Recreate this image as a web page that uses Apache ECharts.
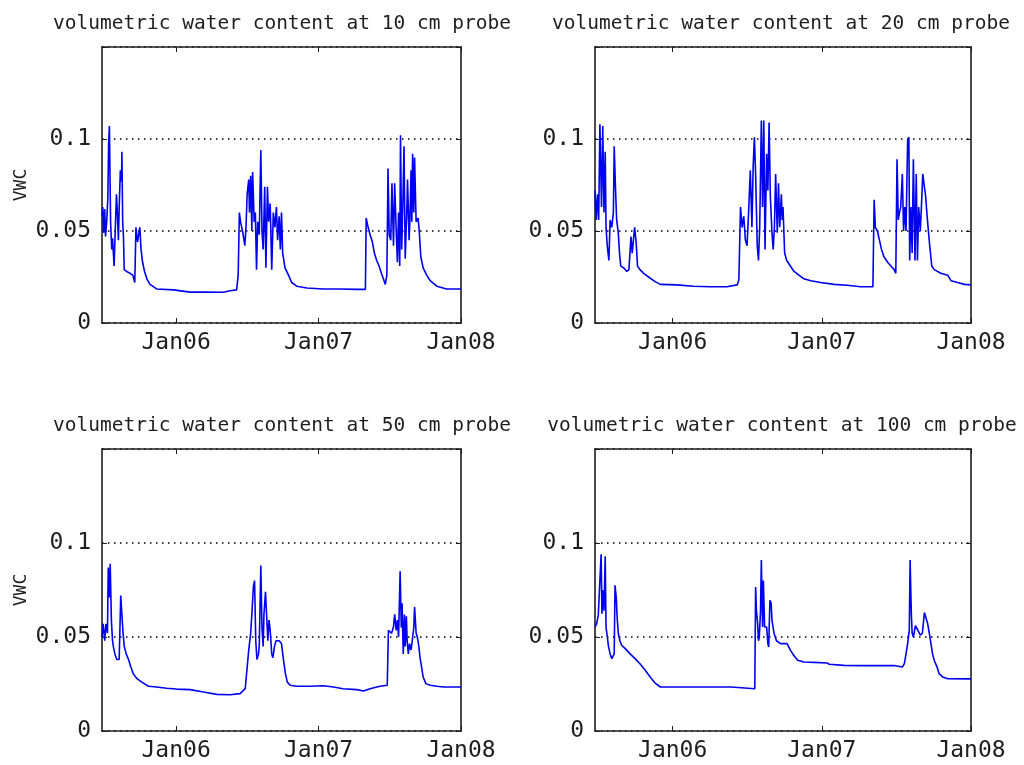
<!DOCTYPE html>
<html>
<head>
<meta charset="utf-8">
<script src="https://cdn.jsdelivr.net/npm/echarts@6/dist/echarts.min.js"></script>
<style>
html,body{margin:0;padding:0;background:#fff;}
#chart{width:1024px;height:765px;}
</style>
</head>
<body>
<div id="chart"></div>
<script>
// ---- data (days counted from START_DATE) ----
const START_DATE = [2005, 5, 24];          // 2005-06-24
const END_DAY = 920;                        // 2008-01-01
const TICK_DAYS = [190, 555, 920];          // Jan06, Jan07, Jan08
const TICK_LABELS = ['Jan06', 'Jan07', 'Jan08'];
const Y_TICKS = [0, 0.05, 0.1];

const titles = [
  'volumetric water content at 10 cm probe',
  'volumetric water content at 20 cm probe',
  'volumetric water content at 50 cm probe',
  'volumetric water content at 100 cm probe'
];

const day10 = [0,2,4,7,9,12,15,17,19,21,22,25,27,31,34,37,39,42,44,47,50,51,53,55,57,63,72,79,84,87,91,94,97,100,104,109,115,123,140,183,226,268,311,328,345,349,352,355,361,366,369,372,376,378,381,384,386,390,393,396,399,403,407,410,413,417,420,424,427,431,435,439,443,447,450,454,457,460,463,469,478,486,499,525,567,610,653,675,677,682,687,693,698,704,710,716,721,726,730,733,736,740,743,747,750,754,757,760,763,765,768,771,774,777,781,783,787,789,792,794,796,799,801,805,810,813,817,823,832,841,858,883,920];
const vwc10 = [0.058,0.063,0.049,0.062,0.047,0.055,0.068,0.098,0.107,0.072,0.055,0.040,0.046,0.031,0.030,0.070,0.062,0.045,0.062,0.083,0.077,0.093,0.055,0.047,0.029,0.028,0.027,0.026,0.022,0.052,0.044,0.048,0.052,0.040,0.033,0.028,0.024,0.021,0.0185,0.018,0.0168,0.0168,0.0167,0.0175,0.018,0.026,0.060,0.055,0.049,0.042,0.052,0.070,0.078,0.060,0.080,0.050,0.082,0.055,0.060,0.029,0.055,0.048,0.094,0.050,0.040,0.074,0.030,0.074,0.055,0.065,0.029,0.060,0.052,0.063,0.045,0.058,0.040,0.060,0.038,0.030,0.026,0.022,0.020,0.019,0.0185,0.0185,0.0183,0.0183,0.057,0.052,0.048,0.044,0.038,0.034,0.031,0.027,0.024,0.021,0.026,0.084,0.048,0.045,0.076,0.042,0.076,0.050,0.033,0.060,0.031,0.102,0.040,0.065,0.096,0.035,0.060,0.078,0.045,0.055,0.083,0.055,0.092,0.060,0.090,0.055,0.057,0.050,0.036,0.030,0.026,0.023,0.020,0.0185,0.0185];

const day20 = [0,3,6,9,12,16,19,22,25,27,30,34,37,41,45,47,50,53,57,60,63,70,78,83,88,91,94,97,101,104,110,119,131,147,160,200,241,282,323,348,352,356,360,364,368,372,376,380,384,387,390,393,397,400,403,407,410,413,416,420,423,426,429,433,436,439,442,446,449,452,456,458,460,464,469,478,487,499,511,528,552,585,617,650,680,683,686,691,696,701,707,716,724,732,736,739,742,745,748,752,755,758,761,765,768,770,773,776,779,783,786,789,792,796,799,802,806,809,812,815,819,824,830,846,863,871,887,904,920];
const vwc20 = [0.072,0.056,0.070,0.056,0.108,0.063,0.107,0.060,0.093,0.052,0.042,0.034,0.056,0.052,0.060,0.096,0.074,0.056,0.049,0.038,0.031,0.030,0.028,0.029,0.047,0.038,0.045,0.052,0.043,0.031,0.029,0.027,0.025,0.0225,0.021,0.0207,0.020,0.0197,0.0197,0.0207,0.0234,0.063,0.052,0.058,0.045,0.042,0.061,0.083,0.052,0.085,0.101,0.081,0.042,0.034,0.052,0.110,0.063,0.110,0.040,0.092,0.072,0.109,0.069,0.049,0.040,0.052,0.081,0.049,0.076,0.052,0.070,0.056,0.063,0.038,0.034,0.031,0.028,0.026,0.024,0.023,0.022,0.021,0.0205,0.0197,0.0197,0.067,0.052,0.050,0.045,0.040,0.036,0.033,0.031,0.029,0.027,0.089,0.056,0.060,0.063,0.081,0.050,0.063,0.050,0.0995,0.101,0.034,0.063,0.038,0.089,0.034,0.081,0.034,0.063,0.050,0.065,0.081,0.074,0.069,0.060,0.052,0.042,0.031,0.029,0.027,0.026,0.023,0.022,0.021,0.0207];

const day50 = [0,3,7,10,14,16,19,21,24,27,29,33,38,44,48,51,54,57,62,68,74,80,89,102,119,140,166,191,226,260,294,328,354,367,372,376,381,384,388,391,394,397,401,403,407,410,413,415,419,422,425,428,431,435,438,442,446,450,454,460,465,470,475,482,499,533,567,593,618,653,670,687,712,731,734,738,742,747,750,754,757,760,764,767,769,772,775,777,780,782,785,788,792,795,799,801,805,808,812,815,819,823,830,841,858,875,920];
const vwc50 = [0.050,0.057,0.048,0.057,0.052,0.087,0.071,0.089,0.059,0.048,0.045,0.041,0.038,0.038,0.072,0.073,0.052,0.045,0.041,0.038,0.034,0.0305,0.028,0.026,0.0238,0.0234,0.0227,0.0223,0.022,0.0207,0.0195,0.0193,0.0199,0.0225,0.0234,0.043,0.052,0.062,0.077,0.080,0.048,0.038,0.041,0.045,0.088,0.055,0.045,0.062,0.074,0.073,0.048,0.059,0.0535,0.041,0.039,0.045,0.048,0.049,0.048,0.0465,0.038,0.0305,0.026,0.0243,0.0238,0.0238,0.0241,0.0234,0.0225,0.022,0.0213,0.0225,0.0238,0.0243,0.0535,0.0527,0.052,0.0553,0.062,0.0535,0.059,0.050,0.085,0.055,0.068,0.041,0.062,0.045,0.061,0.048,0.041,0.0465,0.043,0.048,0.055,0.066,0.052,0.050,0.045,0.039,0.034,0.0287,0.0252,0.0243,0.0238,0.0234,0.0234];

const day100 = [0,4,8,12,15,17,20,22,25,27,29,33,37,41,45,47,49,52,54,57,61,65,74,86,98,110,123,135,147,160,333,335,391,393,395,398,400,402,405,407,410,412,415,420,423,425,428,431,433,438,444,454,470,478,487,496,511,536,568,573,609,650,732,752,757,761,765,769,771,774,776,779,784,788,792,796,801,806,810,814,818,822,826,830,837,842,851,863,920];
const vwc100 = [0.0553,0.057,0.0615,0.0624,0.094,0.0624,0.075,0.064,0.093,0.0553,0.052,0.045,0.041,0.0385,0.039,0.041,0.0775,0.071,0.061,0.052,0.048,0.0456,0.0438,0.041,0.0385,0.0358,0.0323,0.0287,0.0255,0.0234,0.0234,0.0225,0.0225,0.0766,0.064,0.057,0.048,0.050,0.064,0.091,0.0553,0.080,0.0553,0.0553,0.0465,0.0447,0.0695,0.068,0.059,0.052,0.048,0.0465,0.0465,0.043,0.040,0.0376,0.0367,0.0365,0.0362,0.0355,0.0349,0.0348,0.0348,0.034,0.0358,0.041,0.0465,0.0535,0.091,0.0624,0.052,0.050,0.056,0.0553,0.0527,0.051,0.052,0.063,0.0624,0.057,0.052,0.0465,0.041,0.0376,0.034,0.0305,0.0287,0.0278,0.0277];

// ---- build ----
const DAY = 86400000;
const T0 = Date.UTC(START_DATE[0], START_DATE[1], START_DATE[2]);
const ts = d => T0 + d * DAY;
const seriesDays = [day10, day20, day50, day100];
const seriesVals = [vwc10, vwc20, vwc50, vwc100];

const FONT = 'DejaVu Sans Mono';
const INK = '#1e1e1e';
const grids = [
  {left: 102, top: 47, width: 359, height: 276},
  {left: 595, top: 47, width: 376, height: 276},
  {left: 102, top: 449, width: 359, height: 282},
  {left: 595, top: 449, width: 376, height: 282}
];
const titleY = [9, 411];
const titleX = [277, 776, 277, 777];
const tickTs = TICK_DAYS.map(ts);
const labelOf = v => {
  const k = tickTs.findIndex(t => Math.abs(t - v) < DAY / 2);
  return k < 0 ? '' : TICK_LABELS[k];
};

const xAxes = [], yAxes = [], series = [], titleArr = [];
grids.forEach((g, i) => {
  const line = {show: true, onZero: false, lineStyle: {color: INK, width: 1.6}};
  xAxes.push({
    type: 'value', gridIndex: i, position: 'bottom', min: ts(0), max: ts(END_DAY), scale: true,
    axisLine: line,
    axisTick: {show: true, inside: true, length: 5, customValues: tickTs, lineStyle: {color: INK}},
    axisLabel: {show: true, customValues: tickTs, formatter: labelOf, fontFamily: FONT, fontSize: 23,
      color: INK, margin: 9, showMinLabel: true, showMaxLabel: true, hideOverlap: false},
    splitLine: {show: false}
  });
  yAxes.push({
    type: 'value', gridIndex: i, position: 'left', min: 0, max: 0.15, interval: 0.05,
    name: (i % 2 === 0) ? 'VWC' : '', nameLocation: 'middle', nameGap: 72,
    nameTextStyle: {fontFamily: FONT, fontSize: 18, color: INK},
    axisLine: line,
    axisTick: {show: true, inside: true, length: 5, lineStyle: {color: INK}},
    axisLabel: {fontFamily: FONT, fontSize: 23, color: INK, margin: 11,
      formatter: v => (Y_TICKS.some(t => Math.abs(t - v) < 1e-9) ? String(+v.toFixed(2)) : '')},
    splitLine: {show: true, lineStyle: {color: '#000', width: 1.5, type: [1.5, 4.5]}}
  });
  titleArr.push({
    text: titles[i], left: titleX[i], top: titleY[Math.floor(i / 2)], textAlign: 'center',
    textStyle: {fontFamily: FONT, fontSize: 19.5, fontWeight: 'normal', color: INK}
  });
  series.push({
    type: 'line', xAxisIndex: i, yAxisIndex: i, showSymbol: false, symbol: 'none',
    lineStyle: {color: '#0000f0', width: 1.6}, animation: false,
    data: seriesDays[i].map((d, k) => [ts(d), seriesVals[i][k]])
  });
});
// box: top and right axes with inward ticks
grids.forEach((g, i) => {
  const line = {show: true, onZero: false, lineStyle: {color: INK, width: 1.6}};
  xAxes.push({
    type: 'value', gridIndex: i, position: 'top', min: ts(0), max: ts(END_DAY), scale: true,
    axisLine: line,
    axisTick: {show: true, inside: true, length: 5, customValues: tickTs, lineStyle: {color: INK}},
    axisLabel: {show: false}, splitLine: {show: false}
  });
  yAxes.push({
    type: 'value', gridIndex: i, position: 'right', min: 0, max: 0.15, interval: 0.05,
    axisLine: line,
    axisTick: {show: true, inside: true, length: 5, lineStyle: {color: INK}},
    axisLabel: {show: false}, splitLine: {show: false}
  });
});

const chart = echarts.init(document.getElementById('chart'), null, {renderer: 'canvas'});
chart.setOption({
  backgroundColor: '#fff',
  animation: false,
  title: titleArr,
  grid: grids.map(g => Object.assign({containLabel: false}, g)),
  xAxis: xAxes,
  yAxis: yAxes,
  series: series
});
</script>
</body>
</html>
